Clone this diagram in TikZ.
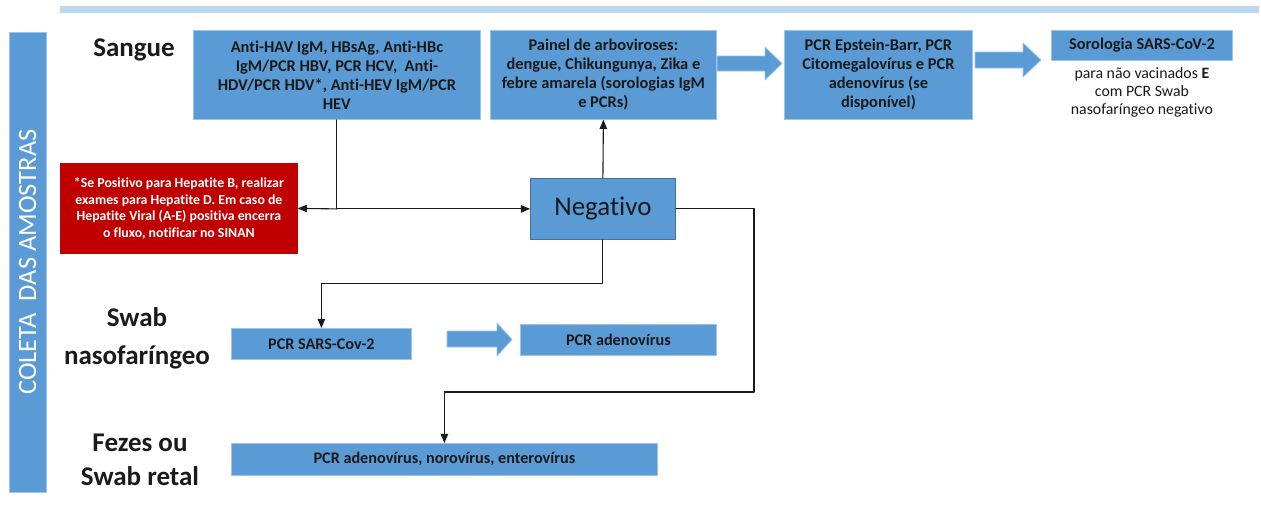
\documentclass[tikz,border=0pt]{standalone}
\usepackage{fontspec}
\setmainfont{Carlito}[Ligatures={NoCommon,NoContextual}]
\usepackage{pgf,tikz}
\usetikzlibrary{arrows}
\usetikzlibrary{positioning}
\definecolor{azul}{HTML}{5B9BD5}
\definecolor{borda}{HTML}{9DC3E6}
\definecolor{bordaneg}{HTML}{41719C}
\definecolor{faixa}{HTML}{BDD7EE}
\definecolor{alerta}{HTML}{C00000}
\definecolor{texto}{HTML}{1A1A1A}

\begin{document}
\begin{tikzpicture}[line cap=round,line join=round,>=triangle 45,x=1pt,y=-1pt,
  exame/.style={fill=azul,draw=borda,line width=0.8pt,inner sep=0pt,align=center,anchor=north west,text=texto,font=\fontsize{16.4}{19}\selectfont\bfseries},
  examep/.style={exame,font=\fontsize{16.2}{19}\selectfont\bfseries},
  rotulo/.style={align=center,text=texto,font=\fontsize{27}{38}\selectfont\bfseries},
  seta/.style={->,line width=1.1pt,draw=texto},
  linha/.style={line width=1.1pt,draw=texto},
  bloco/.style={fill=azul,draw=borda,line width=0.8pt}]
\useasboundingbox (0,0) rectangle (1261,504);
\fill[faixa] (60,6) rectangle (1259,13);
\node[fill=azul,draw=borda,line width=0.8pt,rotate=90,minimum width=460pt,minimum height=37pt,inner sep=0pt,text=white,font=\fontsize{26.5}{30}\selectfont] (coleta) at (27.5,262) {COLETA~~DAS AMOSTRAS};
\node[rotulo] (sangue) at (134,50) {Sangue};
\node[rotulo] (swab) at (137,338) {Swab\\nasofaríngeo};
\node[rotulo,font=\fontsize{27}{34}\selectfont\bfseries] (fezes) at (140,460) {Fezes ou\\Swab retal};
\node[exame,minimum width=287pt,minimum height=89pt] (hav) at (193,30) {Anti-HAV IgM, HBsAg, Anti-HBc\\IgM/PCR HBV, PCR HCV,~ Anti-\\HDV/PCR HDV*, Anti-HEV IgM/PCR\\HEV};
\node[exame,minimum width=226pt,minimum height=89pt] (arbo) at (490,30) {Painel de arboviroses:\\dengue, Chikungunya, Zika e\\febre amarela (sorologias IgM\\e PCRs)};
\node[exame,minimum width=188pt,minimum height=89pt] (ebv) at (784,30) {PCR Epstein-Barr, PCR\\Citomegalovírus e PCR\\adenovírus (se\\disponível)};
\node[exame,minimum width=181pt,minimum height=30pt] (soro) at (1051,30) {Sorologia SARS-CoV-2};
\node[below=7pt of soro,align=center,inner sep=0pt,text=texto,font=\fontsize{15.8}{18}\selectfont] (nota) {para não vacinados \textbf{E}\\com PCR Swab\\nasofaríngeo negativo};
\node[examep,fill=alerta,draw=alerta,text=white,minimum width=237pt,minimum height=90pt,font=\fontsize{13.8}{16.7}\selectfont\bfseries] (hepd) at (60,163) {*Se Positivo para Hepatite B, realizar\\exames para Hepatite D. Em caso de\\Hepatite Viral (A-E) positiva encerra\\o fluxo, notificar no SINAN};
\node[exame,draw=bordaneg,minimum width=145pt,minimum height=61pt,font=\fontsize{27}{32}\selectfont] (neg) at (530,178) {Negativo};
\node[examep,minimum width=180pt,minimum height=31pt] (sars) at (231,328) {PCR SARS-Cov-2};
\node[examep,minimum width=196pt,minimum height=31pt] (adeno) at (520,324) {PCR adenovírus};
\node[examep,minimum width=426pt,minimum height=32pt] (fez) at (231,443) {PCR adenovírus, norovírus, enterovírus};
\draw[bloco] (717,56) -- (765,56) -- (765,47) -- (782,63.5) -- (765,80) -- (765,71) -- (717,71) -- cycle;
\draw[bloco] (975,52) -- (1023,52) -- (1023,43) -- (1041,60) -- (1023,77) -- (1023,68) -- (975,68) -- cycle;
\draw[bloco] (447,331) -- (497,331) -- (497,323) -- (512,339.5) -- (497,356) -- (497,347) -- (447,347) -- cycle;
\coordinate (j1) at (hav.south |- neg.west);
\coordinate (j2) at (754,392);
\draw[linha] (hav.south) -- (j1);
\draw[seta] (j1) -- (hepd.east);
\draw[seta] (j1) -- (neg.west);
\draw[seta] (neg.north) -- (arbo.south);
\draw[seta] (neg.south) -- ++(0,44) -| (sars.north);
\draw[seta] (neg.east) -| (j2) -| (fez.north);
\end{tikzpicture}
\end{document}
